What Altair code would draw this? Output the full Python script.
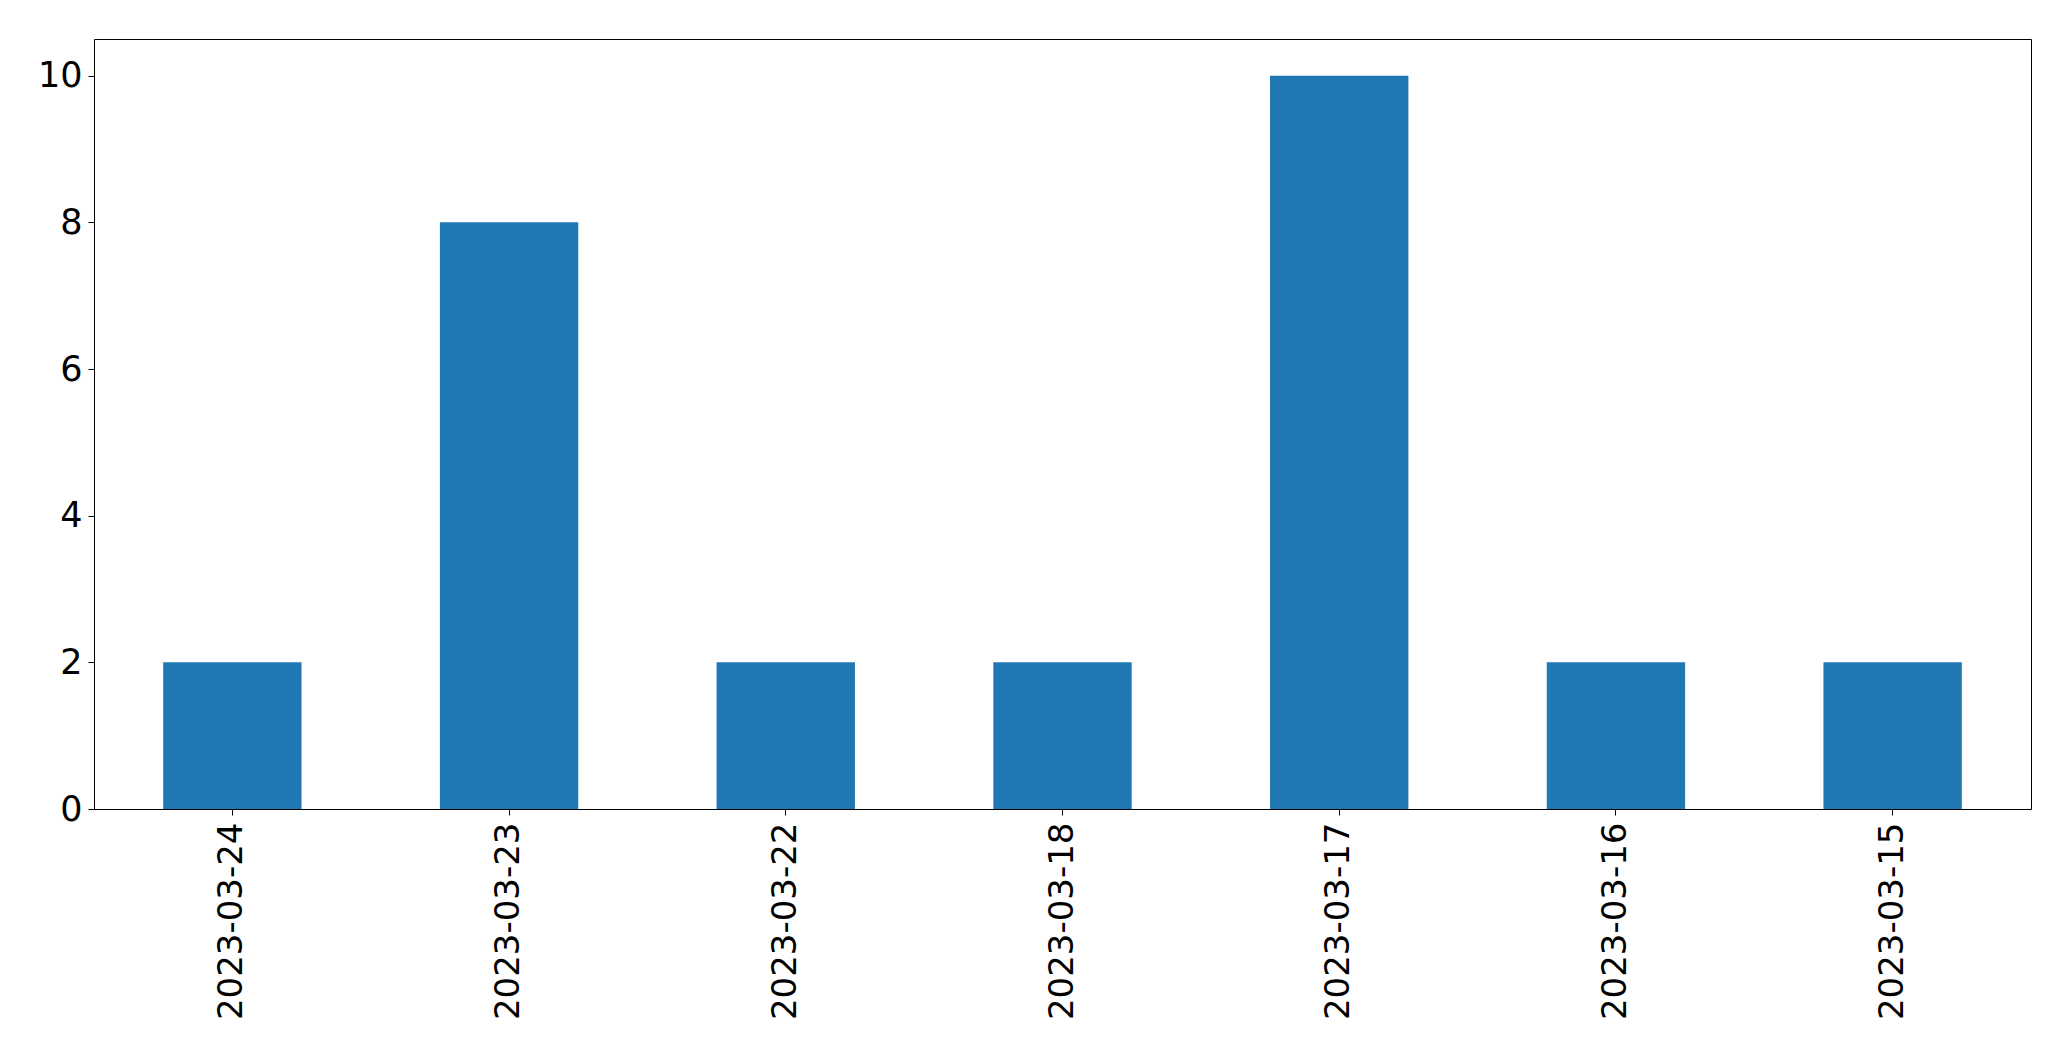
import altair as alt
import pandas as pd

dates = ["2023-03-24", "2023-03-23", "2023-03-22", "2023-03-18",
         "2023-03-17", "2023-03-16", "2023-03-15"]
counts = [2, 8, 2, 2, 10, 2, 2]

df = pd.DataFrame({"date": dates, "count": counts})

chart = alt.Chart(df).mark_bar(color="#1f77b4").encode(
    x=alt.X("date:N", sort=dates, title=None,
            scale=alt.Scale(paddingInner=0.5, paddingOuter=0.25),
            axis=alt.Axis(labelAngle=-90, labelFontSize=34, labelFont="DejaVu Sans",
                          labelColor="black", tickColor="black", tickSize=6,
                          labelPadding=7, domain=False, tickWidth=1, labelLimit=0)),
    y=alt.Y("count:Q", title=None,
            scale=alt.Scale(domain=[0, 10.5], nice=False),
            axis=alt.Axis(values=[0, 2, 4, 6, 8, 10], grid=False, labelFontSize=35,
                          labelFont="DejaVu Sans", labelColor="black",
                          tickColor="black", tickSize=6, labelPadding=6,
                          domain=False, tickWidth=1)),
).properties(
    width=1937, height=770,
    autosize=alt.AutoSizeParams(type="none"),
    padding={"left": 86, "top": 31, "right": 30, "bottom": 240},
    background="white",
).configure_view(
    stroke="black", strokeWidth=1
)

chart.save("out.html", embed_options={"renderer": "svg", "actions": False})
